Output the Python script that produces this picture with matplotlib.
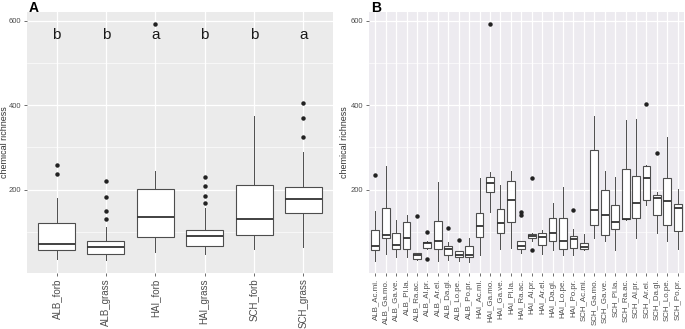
import matplotlib
matplotlib.use("Agg")
import matplotlib.pyplot as plt
from matplotlib.ticker import MultipleLocator

plt.rcParams['font.family'] = ['Liberation Sans', 'DejaVu Sans']

# panel A: pooled groups
a_labels = ['ALB_forb', 'ALB_grass', 'HAI_forb', 'HAI_grass', 'SCH_forb', 'SCH_grass']
a_whislo = [35, 33, 51, 47, 60, 63]
a_q1 = [57, 46, 87, 67, 92, 144]
a_med = [71, 63, 135, 90, 130, 178]
a_q3 = [120, 78, 202, 104, 210, 205]
a_whishi = [180, 110, 243, 157, 374, 288]
a_fliers = [[257, 236], [220, 182, 148, 129], [593], [229, 208, 185, 169], [], [404, 369, 325]]
a_letters = ['b', 'b', 'a', 'b', 'b', 'a']

# panel B: per species
b_labels = ['ALB_Ac.mi.', 'ALB_Ga.mo.', 'ALB_Ga.ve.', 'ALB_Pl.la.', 'ALB_Ra.ac.',
            'ALB_Al.pr.', 'ALB_Ar.el.', 'ALB_Da.gl.', 'ALB_Lo.pe.', 'ALB_Po.pr.',
            'HAI_Ac.mi.', 'HAI_Ga.mo.', 'HAI_Ga.ve.', 'HAI_Pl.la.', 'HAI_Ra.ac.',
            'HAI_Al.pr.', 'HAI_Ar.el.', 'HAI_Da.gl.', 'HAI_Lo.pe.', 'HAI_Po.pr.',
            'SCH_Ac.mi.', 'SCH_Ga.mo.', 'SCH_Ga.ve.', 'SCH_Pl.la.', 'SCH_Ra.ac.',
            'SCH_Al.pr.', 'SCH_Ar.el.', 'SCH_Da.gl.', 'SCH_Lo.pe.', 'SCH_Po.pr.']
b_whislo = [31, 46, 39, 40, 34, 58, 31, 33, 31, 27,
            45, 146, 60, 62, 50, 77, 46, 56, 44, 45,
            57, 86, 78, 56, 128, 84, 164, 97, 78, 58]
b_q1 = [57, 84, 59, 59, 35, 61, 59, 44, 39, 39,
        88, 193, 97, 122, 59, 86, 69, 78, 59, 62,
        59, 116, 91, 106, 130, 133, 176, 140, 117, 102]
b_med = [65, 93, 68, 86, 44, 72, 77, 58, 45, 45,
         114, 216, 121, 176, 67, 90, 88, 97, 77, 83,
         64, 152, 140, 124, 131, 168, 228, 179, 173, 155]
b_q3 = [105, 156, 97, 123, 49, 75, 126, 65, 53, 67,
        144, 230, 154, 220, 78, 94, 98, 132, 133, 89,
        73, 294, 199, 164, 248, 232, 255, 186, 227, 166]
b_whishi = [148, 255, 128, 140, 50, 77, 217, 76, 55, 86,
            228, 242, 211, 243, 79, 96, 105, 167, 206, 106,
            94, 374, 244, 230, 364, 368, 258, 193, 324, 202]
b_fliers = [[235], [], [], [], [138], [100, 35], [], [108], [80], [],
            [], [593], [], [], [146, 139], [227, 56], [], [], [], [151],
            [], [], [], [], [], [], [402], [287], [], []]

W, H = 685, 329
fig = plt.figure(figsize=(W / 100, H / 100), dpi=100)


def pix_axes(x0, x1, y0, y1):
    return fig.add_axes([x0 / W, 1 - y1 / H, (x1 - x0) / W, (y1 - y0) / H])


def draw_panel(ax, labels, lo, q1, med, q3, hi, fliers, bg, fs, label_x):
    stats = []
    for i in range(len(labels)):
        stats.append(dict(whislo=lo[i], q1=q1[i], med=med[i], q3=q3[i],
                          whishi=hi[i], fliers=fliers[i]))
    pos = list(range(1, len(labels) + 1))
    ax.set_facecolor(bg)
    ax.bxp(stats, positions=pos, widths=0.75, showcaps=False, patch_artist=True,
           boxprops=dict(facecolor='white', edgecolor='#4d4d4d', linewidth=0.8),
           medianprops=dict(color='#333333', linewidth=1.3),
           whiskerprops=dict(color='#4d4d4d', linewidth=0.7),
           flierprops=dict(marker='o', markerfacecolor='#222222',
                           markeredgecolor='none', markersize=3.2),
           zorder=3)
    ax.set_xlim(0.4, len(labels) + 0.6)
    ax.set_ylim(2, 621)
    ax.yaxis.set_minor_locator(MultipleLocator(100))
    ax.set_yticks([200, 400, 600])
    ax.set_xticks(pos)
    ax.set_xticklabels(labels, rotation=90, fontsize=fs, color='#4d4d4d')
    ax.grid(True, which='major', color='white', linewidth=0.9, zorder=0)
    ax.grid(True, which='minor', axis='y', color='white', linewidth=0.45, zorder=0)
    ax.set_axisbelow(True)
    for s in ax.spines.values():
        s.set_visible(False)
    ax.tick_params(axis='both', which='major', length=2.5, width=0.5,
                   color='#333333', pad=1.5)
    ax.tick_params(axis='y', labelsize=5.5, labelcolor='#4d4d4d')
    ax.tick_params(axis='y', which='minor', length=0)
    ax.set_ylabel('chemical richness', fontsize=6.5, color='#333333')
    ax.yaxis.set_label_coords(label_x, 0.5)


axA = pix_axes(27, 333, 12, 273)
draw_panel(axA, a_labels, a_whislo, a_q1, a_med, a_q3, a_whishi, a_fliers,
           '#ebebeb', 7, -0.058)
for i, t in enumerate(a_letters):
    axA.text(i + 1, 558, t, ha='center', va='baseline', fontsize=11, color='#1a1a1a')

axB = pix_axes(369, 684, 12, 273)
draw_panel(axB, b_labels, b_whislo, b_q1, b_med, b_q3, b_whishi, b_fliers,
           '#edebf0', 5.7, -0.065)

fig.text(29 / W, 1 - 1 / H, 'A', fontsize=10, fontweight='bold', va='top', ha='left')
fig.text(371 / W, 1 - 1 / H, 'B', fontsize=10, fontweight='bold', va='top', ha='left')

fig.savefig('out.png', dpi=100)
